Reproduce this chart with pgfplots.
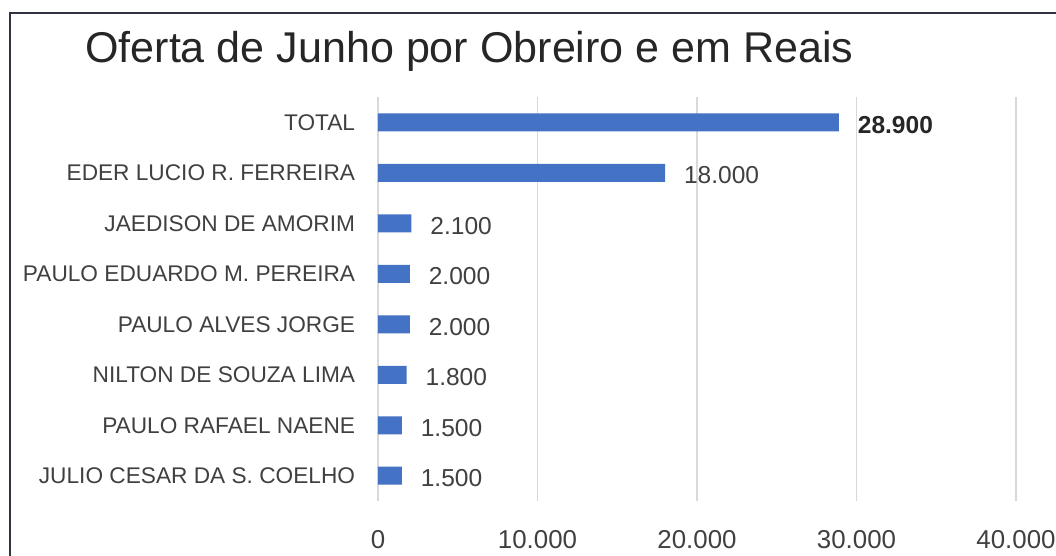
\documentclass[border=0pt]{standalone}
\usepackage{pgfplots}
\pgfplotsset{compat=1.18}
\usepackage{fontspec}
\setmainfont{Liberation Sans}
\definecolor{barblue}{HTML}{4472C4}
\definecolor{txt}{HTML}{404040}
\definecolor{frm}{HTML}{2F3440}
\begin{document}
\begin{tikzpicture}
\useasboundingbox (-283.5pt,-41.25pt) rectangle (508.5pt,375.75pt);
\draw[frm, line width=2pt] (-276pt,-45pt) -- (-276pt,366pt) -- (512pt,366pt);
\node[anchor=base west, font=\fontsize{32.3}{32.3}\selectfont, text=black!85, inner sep=0pt] at (-219.75pt, 328.5pt) {Oferta de Junho por Obreiro e em Reais};
\begin{axis}[
  at={(0pt,0pt)}, anchor=south west,
  scale only axis, width=478.5pt, height=303pt,
  xbar, bar width=13.5pt,
  xmin=0, xmax=40000, ymin=-0.5, ymax=7.5,
  xtick={0,10000,20000,30000,40000},
  ytick={0,...,7},
  yticklabels={JULIO CESAR DA S. COELHO, PAULO RAFAEL NAENE, NILTON DE SOUZA LIMA, PAULO ALVES JORGE, PAULO EDUARDO M. PEREIRA, JAEDISON DE AMORIM, EDER LUCIO R. FERREIRA, TOTAL},
  xmajorgrids, grid style={draw=black!15, line width=0.9pt},
  axis line style={draw=none},
  major tick length=0pt,
  scaled x ticks=false,
  /pgf/number format/1000 sep={.},
  /pgf/number format/assume math mode=true,
  xticklabel style={font=\fontsize{19.4}{19.4}\selectfont, text=txt, anchor=north, inner sep=0pt, yshift=-22pt},
  yticklabel style={font=\fontsize{17}{17}\selectfont, text=txt, anchor=east, inner sep=0pt, xshift=-17pt},
  nodes near coords, point meta=explicit symbolic,
  every node near coord/.append style={font=\fontsize{18.4}{18.4}\selectfont, text=txt, anchor=west, inner sep=0pt, xshift=14pt, yshift=-2pt},
]
\addplot[fill=barblue, draw=none] coordinates {
(1500,0) [1.500] (1500,1) [1.500] (1800,2) [1.800] (2000,3) [2.000] (2000,4) [2.000] (2100,5) [2.100] (18000,6) [18.000] (28900,7) [\textbf{\color{black!85}28.900}]};
\end{axis}
\end{tikzpicture}
\end{document}
